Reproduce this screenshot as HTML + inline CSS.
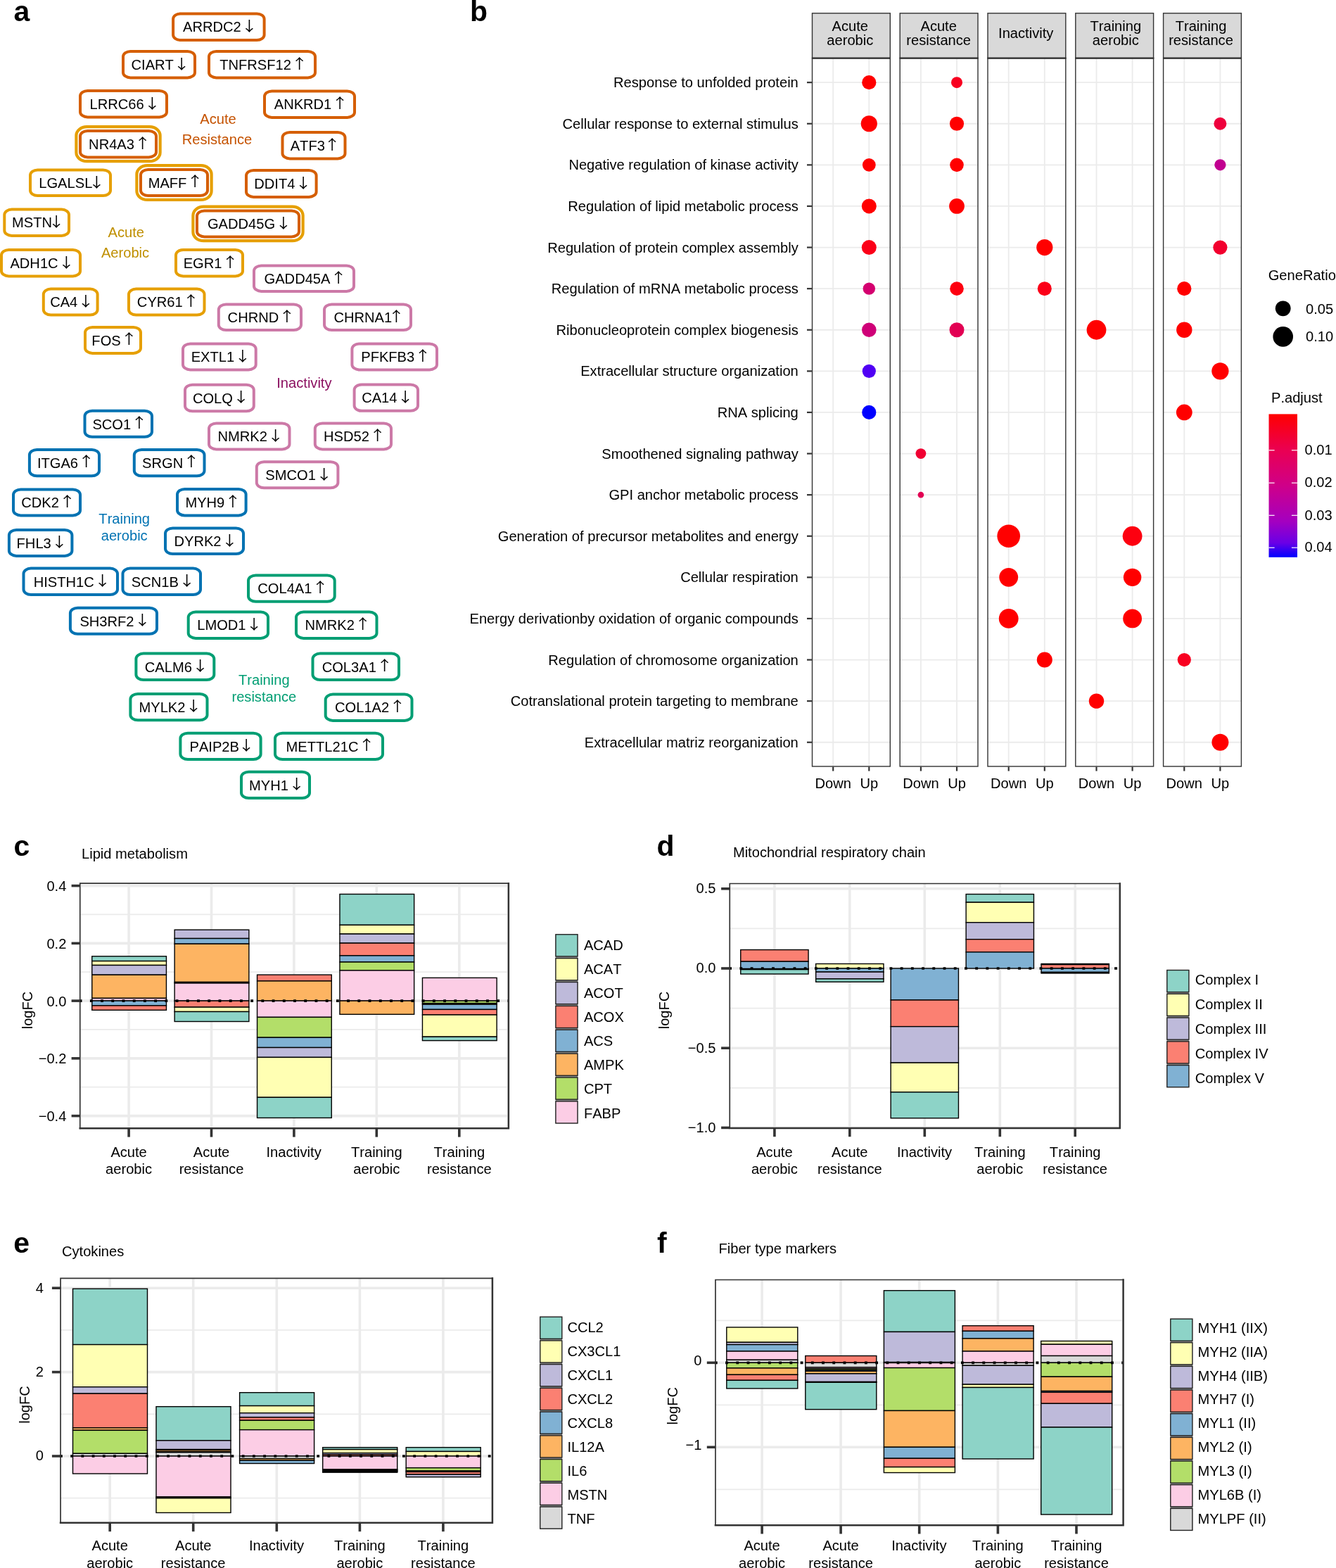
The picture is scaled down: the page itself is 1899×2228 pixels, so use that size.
<!DOCTYPE html>
<html lang="en">
<head>
<meta charset="utf-8">
<title>Figure</title>
<style>
html,body{margin:0;padding:0;background:#fff;}
body{width:1899px;height:2228px;overflow:hidden;}
svg{display:block;}
text{font-family:"Liberation Sans",sans-serif;font-size:20.12px;fill:#000;font-kerning:none;}
text.g{font-size:20.12px;}
text.ar{font-family:"Noto Sans CJK SC","DejaVu Sans",sans-serif;font-size:19.4px;text-anchor:middle;}
text.pl{font-weight:bold;font-size:40.9px;}
</style>
</head>
<body>
<svg width="1899" height="2228" viewBox="0 0 1899 2228">
<defs>
<linearGradient id="pgrad" x1="0" y1="0" x2="0" y2="1">
<stop offset="0" stop-color="#ff0000"/>
<stop offset="0.25" stop-color="#ea0052"/>
<stop offset="0.5" stop-color="#cf0089"/>
<stop offset="0.75" stop-color="#a400c0"/>
<stop offset="0.9" stop-color="#6a00e6"/>
<stop offset="1" stop-color="#0000ff"/>
</linearGradient>
</defs>
<rect width="1899" height="2228" fill="#fff"/>
<g id="panel-a">
<rect x="246.10" y="19.40" width="129.50" height="37.70" rx="10.50" ry="7.50" fill="#fff" stroke="#d55e00" stroke-width="4.0"/>
<text x="260.02" y="45.45" class="g">ARRDC2</text>
<text transform="translate(354.45,44.10) scale(1.2,1)" class="ar">↓</text>
<rect x="175.00" y="73.00" width="102.00" height="37.40" rx="10.50" ry="7.50" fill="#fff" stroke="#d55e00" stroke-width="4.0"/>
<text x="186.54" y="98.90" class="g">CIART</text>
<text transform="translate(258.23,97.55) scale(1.2,1)" class="ar">↓</text>
<rect x="297.00" y="73.00" width="151.00" height="37.40" rx="10.50" ry="7.50" fill="#fff" stroke="#d55e00" stroke-width="4.0"/>
<text x="312.17" y="98.90" class="g">TNFRSF12</text>
<text transform="translate(425.60,97.55) scale(1.2,1)" class="ar">↑</text>
<rect x="114.00" y="129.00" width="123.00" height="37.40" rx="10.50" ry="7.50" fill="#fff" stroke="#d55e00" stroke-width="4.0"/>
<text x="127.46" y="154.90" class="g">LRRC66</text>
<text transform="translate(216.31,153.55) scale(1.2,1)" class="ar">↓</text>
<rect x="376.00" y="129.50" width="128.00" height="37.40" rx="10.50" ry="7.50" fill="#fff" stroke="#d55e00" stroke-width="4.0"/>
<text x="389.73" y="155.40" class="g">ANKRD1</text>
<text transform="translate(483.04,154.05) scale(1.2,1)" class="ar">↑</text>
<rect x="108.40" y="180.20" width="119.20" height="49.00" rx="14.90" ry="12.40" fill="#fff" stroke="#e69f00" stroke-width="4.2"/>
<rect x="114.00" y="186.00" width="108.00" height="37.40" rx="10.50" ry="7.50" fill="#fff" stroke="#d55e00" stroke-width="4.0"/>
<text x="126.11" y="211.90" class="g">NR4A3</text>
<text transform="translate(202.66,210.55) scale(1.2,1)" class="ar">↑</text>
<rect x="401.50" y="188.00" width="89.00" height="37.40" rx="10.50" ry="7.50" fill="#fff" stroke="#d55e00" stroke-width="4.0"/>
<text x="412.69" y="213.90" class="g">ATF3</text>
<text transform="translate(472.08,212.55) scale(1.2,1)" class="ar">↑</text>
<rect x="43.00" y="241.50" width="114.00" height="36.60" rx="10.50" ry="7.50" fill="#fff" stroke="#e69f00" stroke-width="4.0"/>
<text x="55.30" y="267.00" class="g">LGALSL</text>
<text transform="translate(137.47,265.65) scale(1.2,1)" class="ar">↓</text>
<rect x="194.40" y="235.20" width="106.20" height="48.70" rx="14.90" ry="12.40" fill="#fff" stroke="#e69f00" stroke-width="4.2"/>
<rect x="200.00" y="241.00" width="95.00" height="37.10" rx="10.50" ry="7.50" fill="#fff" stroke="#d55e00" stroke-width="4.0"/>
<text x="210.66" y="266.75" class="g">MAFF</text>
<text transform="translate(277.11,265.40) scale(1.2,1)" class="ar">↑</text>
<rect x="350.00" y="242.00" width="99.60" height="37.90" rx="10.50" ry="7.50" fill="#fff" stroke="#d55e00" stroke-width="4.0"/>
<text x="361.27" y="268.15" class="g">DDIT4</text>
<text transform="translate(431.10,266.80) scale(1.2,1)" class="ar">↓</text>
<rect x="6.30" y="297.60" width="91.70" height="37.30" rx="10.50" ry="7.50" fill="#fff" stroke="#e69f00" stroke-width="4.0"/>
<text x="16.98" y="323.45" class="g">MSTN</text>
<text transform="translate(80.09,322.10) scale(1.2,1)" class="ar">↓</text>
<rect x="274.40" y="293.70" width="156.20" height="48.50" rx="14.90" ry="12.40" fill="#fff" stroke="#e69f00" stroke-width="4.2"/>
<rect x="280.00" y="299.50" width="145.00" height="36.90" rx="10.50" ry="7.50" fill="#fff" stroke="#d55e00" stroke-width="4.0"/>
<text x="294.96" y="325.15" class="g">GADD45G</text>
<text transform="translate(402.81,323.80) scale(1.2,1)" class="ar">↓</text>
<rect x="2.00" y="355.00" width="112.00" height="37.40" rx="10.50" ry="7.50" fill="#fff" stroke="#e69f00" stroke-width="4.0"/>
<text x="14.44" y="380.90" class="g">ADH1C</text>
<text transform="translate(94.33,379.55) scale(1.2,1)" class="ar">↓</text>
<rect x="250.00" y="355.00" width="95.00" height="37.40" rx="10.50" ry="7.50" fill="#fff" stroke="#e69f00" stroke-width="4.0"/>
<text x="260.64" y="380.90" class="g">EGR1</text>
<text transform="translate(327.13,379.55) scale(1.2,1)" class="ar">↑</text>
<rect x="361.00" y="377.50" width="142.00" height="36.40" rx="10.50" ry="7.50" fill="#fff" stroke="#cc79a7" stroke-width="4.0"/>
<text x="375.57" y="402.90" class="g">GADD45A</text>
<text transform="translate(481.20,401.55) scale(1.2,1)" class="ar">↑</text>
<rect x="61.80" y="410.60" width="76.80" height="37.00" rx="10.50" ry="7.50" fill="#fff" stroke="#e69f00" stroke-width="4.0"/>
<text x="71.17" y="436.30" class="g">CA4</text>
<text transform="translate(122.00,434.95) scale(1.2,1)" class="ar">↓</text>
<rect x="183.00" y="410.60" width="107.50" height="37.00" rx="10.50" ry="7.50" fill="#fff" stroke="#e69f00" stroke-width="4.0"/>
<text x="194.86" y="436.30" class="g">CYR61</text>
<text transform="translate(271.41,434.95) scale(1.2,1)" class="ar">↑</text>
<rect x="310.80" y="432.40" width="117.20" height="36.60" rx="10.50" ry="7.50" fill="#fff" stroke="#cc79a7" stroke-width="4.0"/>
<text x="323.61" y="457.90" class="g">CHRND</text>
<text transform="translate(407.96,456.55) scale(1.2,1)" class="ar">↑</text>
<rect x="461.00" y="432.40" width="123.00" height="36.60" rx="10.50" ry="7.50" fill="#fff" stroke="#cc79a7" stroke-width="4.0"/>
<text x="474.47" y="457.90" class="g">CHRNA1</text>
<text transform="translate(563.30,456.55) scale(1.2,1)" class="ar">↑</text>
<rect x="121.00" y="465.00" width="79.00" height="36.90" rx="10.50" ry="7.50" fill="#fff" stroke="#e69f00" stroke-width="4.0"/>
<text x="130.36" y="490.65" class="g">FOS</text>
<text transform="translate(183.41,489.30) scale(1.2,1)" class="ar">↑</text>
<rect x="260.00" y="488.50" width="103.70" height="36.90" rx="10.50" ry="7.50" fill="#fff" stroke="#cc79a7" stroke-width="4.0"/>
<text x="271.63" y="514.15" class="g">EXTL1</text>
<text transform="translate(344.84,512.80) scale(1.2,1)" class="ar">↓</text>
<rect x="500.40" y="488.50" width="120.60" height="36.90" rx="10.50" ry="7.50" fill="#fff" stroke="#cc79a7" stroke-width="4.0"/>
<text x="513.22" y="514.15" class="g">PFKFB3</text>
<text transform="translate(600.95,512.80) scale(1.2,1)" class="ar">↑</text>
<rect x="263.00" y="546.80" width="97.80" height="37.40" rx="10.50" ry="7.50" fill="#fff" stroke="#cc79a7" stroke-width="4.0"/>
<text x="273.93" y="572.70" class="g">COLQ</text>
<text transform="translate(342.64,571.35) scale(1.2,1)" class="ar">↓</text>
<rect x="503.60" y="546.50" width="90.40" height="37.30" rx="10.50" ry="7.50" fill="#fff" stroke="#cc79a7" stroke-width="4.0"/>
<text x="514.17" y="572.35" class="g">CA14</text>
<text transform="translate(576.20,571.00) scale(1.2,1)" class="ar">↓</text>
<rect x="120.50" y="583.80" width="95.50" height="37.00" rx="10.50" ry="7.50" fill="#fff" stroke="#0072b2" stroke-width="4.0"/>
<text x="131.39" y="609.50" class="g">SCO1</text>
<text transform="translate(197.88,608.15) scale(1.2,1)" class="ar">↑</text>
<rect x="297.00" y="601.50" width="114.50" height="36.90" rx="10.50" ry="7.50" fill="#fff" stroke="#cc79a7" stroke-width="4.0"/>
<text x="309.57" y="627.15" class="g">NMRK2</text>
<text transform="translate(391.70,625.80) scale(1.2,1)" class="ar">↓</text>
<rect x="447.80" y="601.50" width="108.20" height="36.90" rx="10.50" ry="7.50" fill="#fff" stroke="#cc79a7" stroke-width="4.0"/>
<text x="460.01" y="627.15" class="g">HSD52</text>
<text transform="translate(536.56,625.80) scale(1.2,1)" class="ar">↑</text>
<rect x="41.90" y="639.00" width="99.10" height="37.20" rx="10.50" ry="7.50" fill="#fff" stroke="#0072b2" stroke-width="4.0"/>
<text x="52.92" y="664.80" class="g">ITGA6</text>
<text transform="translate(122.75,663.45) scale(1.2,1)" class="ar">↑</text>
<rect x="190.80" y="639.00" width="99.70" height="37.20" rx="10.50" ry="7.50" fill="#fff" stroke="#0072b2" stroke-width="4.0"/>
<text x="202.12" y="664.80" class="g">SRGN</text>
<text transform="translate(271.95,663.45) scale(1.2,1)" class="ar">↑</text>
<rect x="364.80" y="656.30" width="115.60" height="36.90" rx="10.50" ry="7.50" fill="#fff" stroke="#cc79a7" stroke-width="4.0"/>
<text x="377.36" y="681.95" class="g">SMCO1</text>
<text transform="translate(460.61,680.60) scale(1.2,1)" class="ar">↓</text>
<rect x="19.00" y="695.40" width="95.00" height="37.00" rx="10.50" ry="7.50" fill="#fff" stroke="#0072b2" stroke-width="4.0"/>
<text x="30.20" y="721.10" class="g">CDK2</text>
<text transform="translate(95.57,719.75) scale(1.2,1)" class="ar">↑</text>
<rect x="252.00" y="695.00" width="97.60" height="37.40" rx="10.50" ry="7.50" fill="#fff" stroke="#0072b2" stroke-width="4.0"/>
<text x="263.39" y="720.90" class="g">MYH9</text>
<text transform="translate(330.98,719.55) scale(1.2,1)" class="ar">↑</text>
<rect x="12.90" y="753.00" width="89.50" height="36.90" rx="10.50" ry="7.50" fill="#fff" stroke="#0072b2" stroke-width="4.0"/>
<text x="23.59" y="778.65" class="g">FHL3</text>
<text transform="translate(84.48,777.30) scale(1.2,1)" class="ar">↓</text>
<rect x="235.00" y="750.50" width="111.00" height="36.50" rx="10.50" ry="7.50" fill="#fff" stroke="#0072b2" stroke-width="4.0"/>
<text x="247.49" y="775.95" class="g">DYRK2</text>
<text transform="translate(326.28,774.60) scale(1.2,1)" class="ar">↓</text>
<rect x="33.50" y="807.60" width="133.50" height="37.40" rx="10.50" ry="7.50" fill="#fff" stroke="#0072b2" stroke-width="4.0"/>
<text x="47.75" y="833.50" class="g">HISTH1C</text>
<text transform="translate(145.52,832.15) scale(1.2,1)" class="ar">↓</text>
<rect x="174.50" y="807.60" width="110.50" height="37.40" rx="10.50" ry="7.50" fill="#fff" stroke="#0072b2" stroke-width="4.0"/>
<text x="186.74" y="833.50" class="g">SCN1B</text>
<text transform="translate(265.53,832.15) scale(1.2,1)" class="ar">↓</text>
<rect x="353.00" y="817.40" width="122.70" height="37.40" rx="10.50" ry="7.50" fill="#fff" stroke="#009e73" stroke-width="4.0"/>
<text x="366.30" y="843.30" class="g">COL4A1</text>
<text transform="translate(455.17,841.95) scale(1.2,1)" class="ar">↑</text>
<rect x="99.90" y="863.80" width="123.10" height="37.00" rx="10.50" ry="7.50" fill="#fff" stroke="#0072b2" stroke-width="4.0"/>
<text x="113.41" y="889.50" class="g">SH3RF2</text>
<text transform="translate(202.26,888.15) scale(1.2,1)" class="ar">↓</text>
<rect x="267.70" y="869.60" width="113.30" height="37.30" rx="10.50" ry="7.50" fill="#fff" stroke="#009e73" stroke-width="4.0"/>
<text x="280.23" y="895.45" class="g">LMOD1</text>
<text transform="translate(361.24,894.10) scale(1.2,1)" class="ar">↓</text>
<rect x="421.00" y="869.60" width="114.50" height="37.30" rx="10.50" ry="7.50" fill="#fff" stroke="#009e73" stroke-width="4.0"/>
<text x="433.57" y="895.45" class="g">NMRK2</text>
<text transform="translate(515.70,894.10) scale(1.2,1)" class="ar">↑</text>
<rect x="193.40" y="928.60" width="110.90" height="37.40" rx="10.50" ry="7.50" fill="#fff" stroke="#009e73" stroke-width="4.0"/>
<text x="205.84" y="954.50" class="g">CALM6</text>
<text transform="translate(284.63,953.15) scale(1.2,1)" class="ar">↓</text>
<rect x="444.50" y="928.60" width="122.50" height="37.40" rx="10.50" ry="7.50" fill="#fff" stroke="#009e73" stroke-width="4.0"/>
<text x="457.70" y="954.50" class="g">COL3A1</text>
<text transform="translate(546.57,953.15) scale(1.2,1)" class="ar">↑</text>
<rect x="185.40" y="985.90" width="109.10" height="37.30" rx="10.50" ry="7.50" fill="#fff" stroke="#009e73" stroke-width="4.0"/>
<text x="197.50" y="1011.75" class="g">MYLK2</text>
<text transform="translate(275.17,1010.40) scale(1.2,1)" class="ar">↓</text>
<rect x="462.70" y="986.60" width="122.80" height="37.30" rx="10.50" ry="7.50" fill="#fff" stroke="#009e73" stroke-width="4.0"/>
<text x="476.05" y="1012.45" class="g">COL1A2</text>
<text transform="translate(564.92,1011.10) scale(1.2,1)" class="ar">↑</text>
<rect x="256.40" y="1041.70" width="114.20" height="37.30" rx="10.50" ry="7.50" fill="#fff" stroke="#009e73" stroke-width="4.0"/>
<text x="269.56" y="1067.55" class="g">PAIP2B</text>
<text transform="translate(350.21,1066.20) scale(1.2,1)" class="ar">↓</text>
<rect x="391.00" y="1041.70" width="153.00" height="37.30" rx="10.50" ry="7.50" fill="#fff" stroke="#009e73" stroke-width="4.0"/>
<text x="406.61" y="1067.55" class="g">METTL21C</text>
<text transform="translate(521.16,1066.20) scale(1.2,1)" class="ar">↑</text>
<rect x="343.00" y="1096.70" width="97.00" height="37.40" rx="10.50" ry="7.50" fill="#fff" stroke="#009e73" stroke-width="4.0"/>
<text x="354.09" y="1122.60" class="g">MYH1</text>
<text transform="translate(421.68,1121.25) scale(1.2,1)" class="ar">↓</text>
<text x="310.00" y="175.90" text-anchor="middle" style="fill:#c55200" class="t">Acute</text>
<text x="308.50" y="204.60" text-anchor="middle" style="fill:#c55200" class="t">Resistance</text>
<text x="179.30" y="336.70" text-anchor="middle" style="fill:#bf8f00" class="t">Acute</text>
<text x="178.00" y="365.60" text-anchor="middle" style="fill:#bf8f00" class="t">Aerobic</text>
<text x="432.40" y="550.90" text-anchor="middle" style="fill:#8b1060" class="t">Inactivity</text>
<text x="176.70" y="743.80" text-anchor="middle" style="fill:#0072b2" class="t">Training</text>
<text x="176.70" y="767.90" text-anchor="middle" style="fill:#0072b2" class="t">aerobic</text>
<text x="375.30" y="972.80" text-anchor="middle" style="fill:#009e73" class="t">Training</text>
<text x="375.30" y="996.80" text-anchor="middle" style="fill:#009e73" class="t">resistance</text>
</g>
<text x="19.60" y="30.30" class="pl">a</text>
<text x="668.00" y="30.10" class="pl">b</text>
<text x="19.60" y="1216.40" class="pl">c</text>
<text x="933.50" y="1216.40" class="pl">d</text>
<text x="19.30" y="1780.00" class="pl">e</text>
<text x="933.90" y="1780.20" class="pl">f</text>
<g id="panel-b">
<rect x="1153.90" y="82.60" width="112.0" height="1007.00" fill="#fff"/>
<line x1="1153.90" x2="1265.90" y1="117.15" y2="117.15" stroke="#ebebeb" stroke-width="1.8"/>
<line x1="1153.90" x2="1265.90" y1="175.75" y2="175.75" stroke="#ebebeb" stroke-width="1.8"/>
<line x1="1153.90" x2="1265.90" y1="234.35" y2="234.35" stroke="#ebebeb" stroke-width="1.8"/>
<line x1="1153.90" x2="1265.90" y1="292.95" y2="292.95" stroke="#ebebeb" stroke-width="1.8"/>
<line x1="1153.90" x2="1265.90" y1="351.55" y2="351.55" stroke="#ebebeb" stroke-width="1.8"/>
<line x1="1153.90" x2="1265.90" y1="410.15" y2="410.15" stroke="#ebebeb" stroke-width="1.8"/>
<line x1="1153.90" x2="1265.90" y1="468.75" y2="468.75" stroke="#ebebeb" stroke-width="1.8"/>
<line x1="1153.90" x2="1265.90" y1="527.35" y2="527.35" stroke="#ebebeb" stroke-width="1.8"/>
<line x1="1153.90" x2="1265.90" y1="585.95" y2="585.95" stroke="#ebebeb" stroke-width="1.8"/>
<line x1="1153.90" x2="1265.90" y1="644.55" y2="644.55" stroke="#ebebeb" stroke-width="1.8"/>
<line x1="1153.90" x2="1265.90" y1="703.15" y2="703.15" stroke="#ebebeb" stroke-width="1.8"/>
<line x1="1153.90" x2="1265.90" y1="761.75" y2="761.75" stroke="#ebebeb" stroke-width="1.8"/>
<line x1="1153.90" x2="1265.90" y1="820.35" y2="820.35" stroke="#ebebeb" stroke-width="1.8"/>
<line x1="1153.90" x2="1265.90" y1="878.95" y2="878.95" stroke="#ebebeb" stroke-width="1.8"/>
<line x1="1153.90" x2="1265.90" y1="937.55" y2="937.55" stroke="#ebebeb" stroke-width="1.8"/>
<line x1="1153.90" x2="1265.90" y1="996.15" y2="996.15" stroke="#ebebeb" stroke-width="1.8"/>
<line x1="1153.90" x2="1265.90" y1="1054.75" y2="1054.75" stroke="#ebebeb" stroke-width="1.8"/>
<line x1="1184.20" x2="1184.20" y1="82.60" y2="1089.60" stroke="#ebebeb" stroke-width="1.8"/>
<line x1="1235.30" x2="1235.30" y1="82.60" y2="1089.60" stroke="#ebebeb" stroke-width="1.8"/>
<rect x="1278.60" y="82.60" width="112.0" height="1007.00" fill="#fff"/>
<line x1="1278.60" x2="1390.60" y1="117.15" y2="117.15" stroke="#ebebeb" stroke-width="1.8"/>
<line x1="1278.60" x2="1390.60" y1="175.75" y2="175.75" stroke="#ebebeb" stroke-width="1.8"/>
<line x1="1278.60" x2="1390.60" y1="234.35" y2="234.35" stroke="#ebebeb" stroke-width="1.8"/>
<line x1="1278.60" x2="1390.60" y1="292.95" y2="292.95" stroke="#ebebeb" stroke-width="1.8"/>
<line x1="1278.60" x2="1390.60" y1="351.55" y2="351.55" stroke="#ebebeb" stroke-width="1.8"/>
<line x1="1278.60" x2="1390.60" y1="410.15" y2="410.15" stroke="#ebebeb" stroke-width="1.8"/>
<line x1="1278.60" x2="1390.60" y1="468.75" y2="468.75" stroke="#ebebeb" stroke-width="1.8"/>
<line x1="1278.60" x2="1390.60" y1="527.35" y2="527.35" stroke="#ebebeb" stroke-width="1.8"/>
<line x1="1278.60" x2="1390.60" y1="585.95" y2="585.95" stroke="#ebebeb" stroke-width="1.8"/>
<line x1="1278.60" x2="1390.60" y1="644.55" y2="644.55" stroke="#ebebeb" stroke-width="1.8"/>
<line x1="1278.60" x2="1390.60" y1="703.15" y2="703.15" stroke="#ebebeb" stroke-width="1.8"/>
<line x1="1278.60" x2="1390.60" y1="761.75" y2="761.75" stroke="#ebebeb" stroke-width="1.8"/>
<line x1="1278.60" x2="1390.60" y1="820.35" y2="820.35" stroke="#ebebeb" stroke-width="1.8"/>
<line x1="1278.60" x2="1390.60" y1="878.95" y2="878.95" stroke="#ebebeb" stroke-width="1.8"/>
<line x1="1278.60" x2="1390.60" y1="937.55" y2="937.55" stroke="#ebebeb" stroke-width="1.8"/>
<line x1="1278.60" x2="1390.60" y1="996.15" y2="996.15" stroke="#ebebeb" stroke-width="1.8"/>
<line x1="1278.60" x2="1390.60" y1="1054.75" y2="1054.75" stroke="#ebebeb" stroke-width="1.8"/>
<line x1="1308.90" x2="1308.90" y1="82.60" y2="1089.60" stroke="#ebebeb" stroke-width="1.8"/>
<line x1="1360.00" x2="1360.00" y1="82.60" y2="1089.60" stroke="#ebebeb" stroke-width="1.8"/>
<rect x="1403.40" y="82.60" width="112.0" height="1007.00" fill="#fff"/>
<line x1="1403.40" x2="1515.40" y1="117.15" y2="117.15" stroke="#ebebeb" stroke-width="1.8"/>
<line x1="1403.40" x2="1515.40" y1="175.75" y2="175.75" stroke="#ebebeb" stroke-width="1.8"/>
<line x1="1403.40" x2="1515.40" y1="234.35" y2="234.35" stroke="#ebebeb" stroke-width="1.8"/>
<line x1="1403.40" x2="1515.40" y1="292.95" y2="292.95" stroke="#ebebeb" stroke-width="1.8"/>
<line x1="1403.40" x2="1515.40" y1="351.55" y2="351.55" stroke="#ebebeb" stroke-width="1.8"/>
<line x1="1403.40" x2="1515.40" y1="410.15" y2="410.15" stroke="#ebebeb" stroke-width="1.8"/>
<line x1="1403.40" x2="1515.40" y1="468.75" y2="468.75" stroke="#ebebeb" stroke-width="1.8"/>
<line x1="1403.40" x2="1515.40" y1="527.35" y2="527.35" stroke="#ebebeb" stroke-width="1.8"/>
<line x1="1403.40" x2="1515.40" y1="585.95" y2="585.95" stroke="#ebebeb" stroke-width="1.8"/>
<line x1="1403.40" x2="1515.40" y1="644.55" y2="644.55" stroke="#ebebeb" stroke-width="1.8"/>
<line x1="1403.40" x2="1515.40" y1="703.15" y2="703.15" stroke="#ebebeb" stroke-width="1.8"/>
<line x1="1403.40" x2="1515.40" y1="761.75" y2="761.75" stroke="#ebebeb" stroke-width="1.8"/>
<line x1="1403.40" x2="1515.40" y1="820.35" y2="820.35" stroke="#ebebeb" stroke-width="1.8"/>
<line x1="1403.40" x2="1515.40" y1="878.95" y2="878.95" stroke="#ebebeb" stroke-width="1.8"/>
<line x1="1403.40" x2="1515.40" y1="937.55" y2="937.55" stroke="#ebebeb" stroke-width="1.8"/>
<line x1="1403.40" x2="1515.40" y1="996.15" y2="996.15" stroke="#ebebeb" stroke-width="1.8"/>
<line x1="1403.40" x2="1515.40" y1="1054.75" y2="1054.75" stroke="#ebebeb" stroke-width="1.8"/>
<line x1="1433.70" x2="1433.70" y1="82.60" y2="1089.60" stroke="#ebebeb" stroke-width="1.8"/>
<line x1="1484.80" x2="1484.80" y1="82.60" y2="1089.60" stroke="#ebebeb" stroke-width="1.8"/>
<rect x="1528.20" y="82.60" width="112.0" height="1007.00" fill="#fff"/>
<line x1="1528.20" x2="1640.20" y1="117.15" y2="117.15" stroke="#ebebeb" stroke-width="1.8"/>
<line x1="1528.20" x2="1640.20" y1="175.75" y2="175.75" stroke="#ebebeb" stroke-width="1.8"/>
<line x1="1528.20" x2="1640.20" y1="234.35" y2="234.35" stroke="#ebebeb" stroke-width="1.8"/>
<line x1="1528.20" x2="1640.20" y1="292.95" y2="292.95" stroke="#ebebeb" stroke-width="1.8"/>
<line x1="1528.20" x2="1640.20" y1="351.55" y2="351.55" stroke="#ebebeb" stroke-width="1.8"/>
<line x1="1528.20" x2="1640.20" y1="410.15" y2="410.15" stroke="#ebebeb" stroke-width="1.8"/>
<line x1="1528.20" x2="1640.20" y1="468.75" y2="468.75" stroke="#ebebeb" stroke-width="1.8"/>
<line x1="1528.20" x2="1640.20" y1="527.35" y2="527.35" stroke="#ebebeb" stroke-width="1.8"/>
<line x1="1528.20" x2="1640.20" y1="585.95" y2="585.95" stroke="#ebebeb" stroke-width="1.8"/>
<line x1="1528.20" x2="1640.20" y1="644.55" y2="644.55" stroke="#ebebeb" stroke-width="1.8"/>
<line x1="1528.20" x2="1640.20" y1="703.15" y2="703.15" stroke="#ebebeb" stroke-width="1.8"/>
<line x1="1528.20" x2="1640.20" y1="761.75" y2="761.75" stroke="#ebebeb" stroke-width="1.8"/>
<line x1="1528.20" x2="1640.20" y1="820.35" y2="820.35" stroke="#ebebeb" stroke-width="1.8"/>
<line x1="1528.20" x2="1640.20" y1="878.95" y2="878.95" stroke="#ebebeb" stroke-width="1.8"/>
<line x1="1528.20" x2="1640.20" y1="937.55" y2="937.55" stroke="#ebebeb" stroke-width="1.8"/>
<line x1="1528.20" x2="1640.20" y1="996.15" y2="996.15" stroke="#ebebeb" stroke-width="1.8"/>
<line x1="1528.20" x2="1640.20" y1="1054.75" y2="1054.75" stroke="#ebebeb" stroke-width="1.8"/>
<line x1="1558.50" x2="1558.50" y1="82.60" y2="1089.60" stroke="#ebebeb" stroke-width="1.8"/>
<line x1="1609.60" x2="1609.60" y1="82.60" y2="1089.60" stroke="#ebebeb" stroke-width="1.8"/>
<rect x="1653.00" y="82.60" width="112.0" height="1007.00" fill="#fff"/>
<line x1="1653.00" x2="1765.00" y1="117.15" y2="117.15" stroke="#ebebeb" stroke-width="1.8"/>
<line x1="1653.00" x2="1765.00" y1="175.75" y2="175.75" stroke="#ebebeb" stroke-width="1.8"/>
<line x1="1653.00" x2="1765.00" y1="234.35" y2="234.35" stroke="#ebebeb" stroke-width="1.8"/>
<line x1="1653.00" x2="1765.00" y1="292.95" y2="292.95" stroke="#ebebeb" stroke-width="1.8"/>
<line x1="1653.00" x2="1765.00" y1="351.55" y2="351.55" stroke="#ebebeb" stroke-width="1.8"/>
<line x1="1653.00" x2="1765.00" y1="410.15" y2="410.15" stroke="#ebebeb" stroke-width="1.8"/>
<line x1="1653.00" x2="1765.00" y1="468.75" y2="468.75" stroke="#ebebeb" stroke-width="1.8"/>
<line x1="1653.00" x2="1765.00" y1="527.35" y2="527.35" stroke="#ebebeb" stroke-width="1.8"/>
<line x1="1653.00" x2="1765.00" y1="585.95" y2="585.95" stroke="#ebebeb" stroke-width="1.8"/>
<line x1="1653.00" x2="1765.00" y1="644.55" y2="644.55" stroke="#ebebeb" stroke-width="1.8"/>
<line x1="1653.00" x2="1765.00" y1="703.15" y2="703.15" stroke="#ebebeb" stroke-width="1.8"/>
<line x1="1653.00" x2="1765.00" y1="761.75" y2="761.75" stroke="#ebebeb" stroke-width="1.8"/>
<line x1="1653.00" x2="1765.00" y1="820.35" y2="820.35" stroke="#ebebeb" stroke-width="1.8"/>
<line x1="1653.00" x2="1765.00" y1="878.95" y2="878.95" stroke="#ebebeb" stroke-width="1.8"/>
<line x1="1653.00" x2="1765.00" y1="937.55" y2="937.55" stroke="#ebebeb" stroke-width="1.8"/>
<line x1="1653.00" x2="1765.00" y1="996.15" y2="996.15" stroke="#ebebeb" stroke-width="1.8"/>
<line x1="1653.00" x2="1765.00" y1="1054.75" y2="1054.75" stroke="#ebebeb" stroke-width="1.8"/>
<line x1="1683.30" x2="1683.30" y1="82.60" y2="1089.60" stroke="#ebebeb" stroke-width="1.8"/>
<line x1="1734.40" x2="1734.40" y1="82.60" y2="1089.60" stroke="#ebebeb" stroke-width="1.8"/>
<circle cx="1235.30" cy="117.15" r="10.1" fill="#ff0000"/>
<circle cx="1235.30" cy="175.75" r="11.6" fill="#ff0000"/>
<circle cx="1235.30" cy="234.35" r="9.4" fill="#ff0000"/>
<circle cx="1235.30" cy="292.95" r="10.5" fill="#ff0000"/>
<circle cx="1235.30" cy="351.55" r="10.5" fill="#fb0018"/>
<circle cx="1235.30" cy="410.15" r="8.7" fill="#d4006f"/>
<circle cx="1235.30" cy="468.75" r="10.3" fill="#cf0078"/>
<circle cx="1235.30" cy="527.35" r="9.6" fill="#5000f4"/>
<circle cx="1235.30" cy="585.95" r="10.1" fill="#0000ff"/>
<circle cx="1360.00" cy="117.15" r="8.0" fill="#f80020"/>
<circle cx="1360.00" cy="175.75" r="10.1" fill="#ff0000"/>
<circle cx="1360.00" cy="234.35" r="9.8" fill="#ff0000"/>
<circle cx="1360.00" cy="292.95" r="10.9" fill="#ff0000"/>
<circle cx="1360.00" cy="410.15" r="9.8" fill="#fd0010"/>
<circle cx="1360.00" cy="468.75" r="10.5" fill="#e20053"/>
<circle cx="1308.90" cy="644.55" r="7.4" fill="#f00032"/>
<circle cx="1308.90" cy="703.15" r="4.3" fill="#e20053"/>
<circle cx="1484.80" cy="351.55" r="11.6" fill="#ff0000"/>
<circle cx="1484.80" cy="410.15" r="10.0" fill="#fb0018"/>
<circle cx="1433.70" cy="761.75" r="16.3" fill="#ff0000"/>
<circle cx="1433.70" cy="820.35" r="13.4" fill="#ff0000"/>
<circle cx="1433.70" cy="878.95" r="13.9" fill="#ff0000"/>
<circle cx="1484.80" cy="937.55" r="11.0" fill="#ff0000"/>
<circle cx="1558.50" cy="468.75" r="13.9" fill="#ff0000"/>
<circle cx="1609.60" cy="761.75" r="13.9" fill="#fd0010"/>
<circle cx="1609.60" cy="820.35" r="12.7" fill="#ff0000"/>
<circle cx="1609.60" cy="878.95" r="13.4" fill="#ff0000"/>
<circle cx="1558.50" cy="996.15" r="10.7" fill="#ff0000"/>
<circle cx="1734.40" cy="175.75" r="9.0" fill="#ee003c"/>
<circle cx="1734.40" cy="234.35" r="8.1" fill="#c10090"/>
<circle cx="1734.40" cy="351.55" r="10.1" fill="#f2002e"/>
<circle cx="1683.30" cy="410.15" r="10.1" fill="#ff0000"/>
<circle cx="1683.30" cy="468.75" r="11.2" fill="#ff0000"/>
<circle cx="1734.40" cy="527.35" r="12.1" fill="#ff0000"/>
<circle cx="1683.30" cy="585.95" r="11.4" fill="#ff0000"/>
<circle cx="1683.30" cy="937.55" r="9.6" fill="#f80020"/>
<circle cx="1734.40" cy="1054.75" r="12.0" fill="#ff0000"/>
<rect x="1154.50" y="82.60" width="110.80" height="1006.40" fill="none" stroke="#333" stroke-width="1.4"/>
<rect x="1154.50" y="18.80" width="110.80" height="63.80" fill="#d9d9d9" stroke="#333" stroke-width="1.4"/>
<line x1="1153.90" x2="1265.90" y1="82.60" y2="82.60" stroke="#333" stroke-width="2.4"/>
<text x="1208.30" y="44.2" text-anchor="middle" class="t">Acute</text>
<text x="1208.30" y="64.2" text-anchor="middle" class="t">aerobic</text>
<line x1="1184.20" x2="1184.20" y1="1089.60" y2="1095.60" stroke="#333" stroke-width="2.2"/>
<text x="1184.20" y="1119.6" text-anchor="middle" class="t">Down</text>
<line x1="1235.30" x2="1235.30" y1="1089.60" y2="1095.60" stroke="#333" stroke-width="2.2"/>
<text x="1235.30" y="1119.6" text-anchor="middle" class="t">Up</text>
<rect x="1279.20" y="82.60" width="110.80" height="1006.40" fill="none" stroke="#333" stroke-width="1.4"/>
<rect x="1279.20" y="18.80" width="110.80" height="63.80" fill="#d9d9d9" stroke="#333" stroke-width="1.4"/>
<line x1="1278.60" x2="1390.60" y1="82.60" y2="82.60" stroke="#333" stroke-width="2.4"/>
<text x="1334.20" y="44.2" text-anchor="middle" class="t">Acute</text>
<text x="1334.20" y="64.2" text-anchor="middle" class="t">resistance</text>
<line x1="1308.90" x2="1308.90" y1="1089.60" y2="1095.60" stroke="#333" stroke-width="2.2"/>
<text x="1308.90" y="1119.6" text-anchor="middle" class="t">Down</text>
<line x1="1360.00" x2="1360.00" y1="1089.60" y2="1095.60" stroke="#333" stroke-width="2.2"/>
<text x="1360.00" y="1119.6" text-anchor="middle" class="t">Up</text>
<rect x="1404.00" y="82.60" width="110.80" height="1006.40" fill="none" stroke="#333" stroke-width="1.4"/>
<rect x="1404.00" y="18.80" width="110.80" height="63.80" fill="#d9d9d9" stroke="#333" stroke-width="1.4"/>
<line x1="1403.40" x2="1515.40" y1="82.60" y2="82.60" stroke="#333" stroke-width="2.4"/>
<text x="1458.20" y="54.2" text-anchor="middle" class="t">Inactivity</text>
<line x1="1433.70" x2="1433.70" y1="1089.60" y2="1095.60" stroke="#333" stroke-width="2.2"/>
<text x="1433.70" y="1119.6" text-anchor="middle" class="t">Down</text>
<line x1="1484.80" x2="1484.80" y1="1089.60" y2="1095.60" stroke="#333" stroke-width="2.2"/>
<text x="1484.80" y="1119.6" text-anchor="middle" class="t">Up</text>
<rect x="1528.80" y="82.60" width="110.80" height="1006.40" fill="none" stroke="#333" stroke-width="1.4"/>
<rect x="1528.80" y="18.80" width="110.80" height="63.80" fill="#d9d9d9" stroke="#333" stroke-width="1.4"/>
<line x1="1528.20" x2="1640.20" y1="82.60" y2="82.60" stroke="#333" stroke-width="2.4"/>
<text x="1585.80" y="44.2" text-anchor="middle" class="t">Training</text>
<text x="1585.80" y="64.2" text-anchor="middle" class="t">aerobic</text>
<line x1="1558.50" x2="1558.50" y1="1089.60" y2="1095.60" stroke="#333" stroke-width="2.2"/>
<text x="1558.50" y="1119.6" text-anchor="middle" class="t">Down</text>
<line x1="1609.60" x2="1609.60" y1="1089.60" y2="1095.60" stroke="#333" stroke-width="2.2"/>
<text x="1609.60" y="1119.6" text-anchor="middle" class="t">Up</text>
<rect x="1653.60" y="82.60" width="110.80" height="1006.40" fill="none" stroke="#333" stroke-width="1.4"/>
<rect x="1653.60" y="18.80" width="110.80" height="63.80" fill="#d9d9d9" stroke="#333" stroke-width="1.4"/>
<line x1="1653.00" x2="1765.00" y1="82.60" y2="82.60" stroke="#333" stroke-width="2.4"/>
<text x="1707.00" y="44.2" text-anchor="middle" class="t">Training</text>
<text x="1707.00" y="64.2" text-anchor="middle" class="t">resistance</text>
<line x1="1683.30" x2="1683.30" y1="1089.60" y2="1095.60" stroke="#333" stroke-width="2.2"/>
<text x="1683.30" y="1119.6" text-anchor="middle" class="t">Down</text>
<line x1="1734.40" x2="1734.40" y1="1089.60" y2="1095.60" stroke="#333" stroke-width="2.2"/>
<text x="1734.40" y="1119.6" text-anchor="middle" class="t">Up</text>
<text x="1134.8" y="124.15" text-anchor="end" class="t">Response to unfolded protein</text>
<line x1="1147.0" x2="1153.9" y1="117.15" y2="117.15" stroke="#333" stroke-width="2.2"/>
<text x="1134.8" y="182.75" text-anchor="end" class="t">Cellular response to external stimulus</text>
<line x1="1147.0" x2="1153.9" y1="175.75" y2="175.75" stroke="#333" stroke-width="2.2"/>
<text x="1134.8" y="241.35" text-anchor="end" class="t">Negative regulation of kinase activity</text>
<line x1="1147.0" x2="1153.9" y1="234.35" y2="234.35" stroke="#333" stroke-width="2.2"/>
<text x="1134.8" y="299.95" text-anchor="end" class="t">Regulation of lipid metabolic process</text>
<line x1="1147.0" x2="1153.9" y1="292.95" y2="292.95" stroke="#333" stroke-width="2.2"/>
<text x="1134.8" y="358.55" text-anchor="end" class="t">Regulation of protein complex assembly</text>
<line x1="1147.0" x2="1153.9" y1="351.55" y2="351.55" stroke="#333" stroke-width="2.2"/>
<text x="1134.8" y="417.15" text-anchor="end" class="t">Regulation of mRNA metabolic process</text>
<line x1="1147.0" x2="1153.9" y1="410.15" y2="410.15" stroke="#333" stroke-width="2.2"/>
<text x="1134.8" y="475.75" text-anchor="end" class="t">Ribonucleoprotein complex biogenesis</text>
<line x1="1147.0" x2="1153.9" y1="468.75" y2="468.75" stroke="#333" stroke-width="2.2"/>
<text x="1134.8" y="534.35" text-anchor="end" class="t">Extracellular structure organization</text>
<line x1="1147.0" x2="1153.9" y1="527.35" y2="527.35" stroke="#333" stroke-width="2.2"/>
<text x="1134.8" y="592.95" text-anchor="end" class="t">RNA splicing</text>
<line x1="1147.0" x2="1153.9" y1="585.95" y2="585.95" stroke="#333" stroke-width="2.2"/>
<text x="1134.8" y="651.55" text-anchor="end" class="t">Smoothened signaling pathway</text>
<line x1="1147.0" x2="1153.9" y1="644.55" y2="644.55" stroke="#333" stroke-width="2.2"/>
<text x="1134.8" y="710.15" text-anchor="end" class="t">GPI anchor metabolic process</text>
<line x1="1147.0" x2="1153.9" y1="703.15" y2="703.15" stroke="#333" stroke-width="2.2"/>
<text x="1134.8" y="768.75" text-anchor="end" class="t">Generation of precursor metabolites and energy</text>
<line x1="1147.0" x2="1153.9" y1="761.75" y2="761.75" stroke="#333" stroke-width="2.2"/>
<text x="1134.8" y="827.35" text-anchor="end" class="t">Cellular respiration</text>
<line x1="1147.0" x2="1153.9" y1="820.35" y2="820.35" stroke="#333" stroke-width="2.2"/>
<text x="1134.8" y="885.95" text-anchor="end" class="t">Energy derivationby oxidation of organic compounds</text>
<line x1="1147.0" x2="1153.9" y1="878.95" y2="878.95" stroke="#333" stroke-width="2.2"/>
<text x="1134.8" y="944.55" text-anchor="end" class="t">Regulation of chromosome organization</text>
<line x1="1147.0" x2="1153.9" y1="937.55" y2="937.55" stroke="#333" stroke-width="2.2"/>
<text x="1134.8" y="1003.15" text-anchor="end" class="t">Cotranslational protein targeting to membrane</text>
<line x1="1147.0" x2="1153.9" y1="996.15" y2="996.15" stroke="#333" stroke-width="2.2"/>
<text x="1134.8" y="1061.75" text-anchor="end" class="t">Extracellular matriz reorganization</text>
<line x1="1147.0" x2="1153.9" y1="1054.75" y2="1054.75" stroke="#333" stroke-width="2.2"/>
<text x="1802.7" y="398" class="t">GeneRatio</text>
<circle cx="1823.7" cy="438.3" r="10.9" fill="#000"/>
<circle cx="1823.7" cy="478.4" r="14.3" fill="#000"/>
<text x="1856" y="446.2" class="t">0.05</text>
<text x="1856" y="485.3" class="t">0.10</text>
<text x="1807" y="571.8" class="t">P.adjust</text>
<rect x="1803.5" y="588.4" width="40.5" height="203.4" fill="url(#pgrad)"/>
<line x1="1803.5" x2="1811.6" y1="639.8" y2="639.8" stroke="#fff" stroke-width="1.2"/>
<line x1="1835.9" x2="1844" y1="639.8" y2="639.8" stroke="#fff" stroke-width="1.2"/>
<text x="1854.5" y="646.00" class="t">0.01</text>
<line x1="1803.5" x2="1811.6" y1="686.2" y2="686.2" stroke="#fff" stroke-width="1.2"/>
<line x1="1835.9" x2="1844" y1="686.2" y2="686.2" stroke="#fff" stroke-width="1.2"/>
<text x="1854.5" y="692.40" class="t">0.02</text>
<line x1="1803.5" x2="1811.6" y1="732.3" y2="732.3" stroke="#fff" stroke-width="1.2"/>
<line x1="1835.9" x2="1844" y1="732.3" y2="732.3" stroke="#fff" stroke-width="1.2"/>
<text x="1854.5" y="738.50" class="t">0.03</text>
<line x1="1803.5" x2="1811.6" y1="778.2" y2="778.2" stroke="#fff" stroke-width="1.2"/>
<line x1="1835.9" x2="1844" y1="778.2" y2="778.2" stroke="#fff" stroke-width="1.2"/>
<text x="1854.5" y="784.40" class="t">0.04</text>
</g>
<g id="panel-c">
<text x="116" y="1219.8" class="t">Lipid metabolism</text>
<rect x="113.6" y="1255.2" width="609.70" height="348.10" fill="#fff"/>
<clipPath id="cp-panel-c"><rect x="113.6" y="1255.2" width="607.45" height="348.10"/></clipPath>
<g clip-path="url(#cp-panel-c)">
<line x1="113.6" x2="723.3" y1="1299.47" y2="1299.47" stroke="#ebebeb" stroke-width="1.8"/>
<line x1="113.6" x2="723.3" y1="1381.22" y2="1381.22" stroke="#ebebeb" stroke-width="1.8"/>
<line x1="113.6" x2="723.3" y1="1462.97" y2="1462.97" stroke="#ebebeb" stroke-width="1.8"/>
<line x1="113.6" x2="723.3" y1="1544.72" y2="1544.72" stroke="#ebebeb" stroke-width="1.8"/>
<line x1="113.6" x2="723.3" y1="1258.60" y2="1258.60" stroke="#ebebeb" stroke-width="3.6"/>
<line x1="113.6" x2="723.3" y1="1340.35" y2="1340.35" stroke="#ebebeb" stroke-width="3.6"/>
<line x1="113.6" x2="723.3" y1="1422.10" y2="1422.10" stroke="#ebebeb" stroke-width="3.6"/>
<line x1="113.6" x2="723.3" y1="1503.85" y2="1503.85" stroke="#ebebeb" stroke-width="3.6"/>
<line x1="113.6" x2="723.3" y1="1585.60" y2="1585.60" stroke="#ebebeb" stroke-width="3.6"/>
<line x1="183.10" x2="183.10" y1="1255.2" y2="1603.3" stroke="#ebebeb" stroke-width="3.6"/>
<line x1="300.50" x2="300.50" y1="1255.2" y2="1603.3" stroke="#ebebeb" stroke-width="3.6"/>
<line x1="417.90" x2="417.90" y1="1255.2" y2="1603.3" stroke="#ebebeb" stroke-width="3.6"/>
<line x1="535.30" x2="535.30" y1="1255.2" y2="1603.3" stroke="#ebebeb" stroke-width="3.6"/>
<line x1="652.80" x2="652.80" y1="1255.2" y2="1603.3" stroke="#ebebeb" stroke-width="3.6"/>
</g>
<rect x="130.75" y="1358.80" width="105.70" height="6.80" fill="#8dd3c7" stroke="#000" stroke-width="1.4"/>
<rect x="130.75" y="1365.60" width="105.70" height="5.90" fill="#ffffb3" stroke="#000" stroke-width="1.4"/>
<rect x="130.75" y="1371.50" width="105.70" height="13.70" fill="#bebada" stroke="#000" stroke-width="1.4"/>
<rect x="130.75" y="1385.20" width="105.70" height="33.20" fill="#fdb462" stroke="#000" stroke-width="1.4"/>
<rect x="130.75" y="1418.40" width="105.70" height="3.70" fill="#fccde5" stroke="#000" stroke-width="1.4"/>
<rect x="130.75" y="1422.10" width="105.70" height="6.80" fill="#80b1d3" stroke="#000" stroke-width="1.4"/>
<rect x="130.75" y="1428.90" width="105.70" height="6.40" fill="#fb8072" stroke="#000" stroke-width="1.4"/>
<rect x="248.15" y="1321.20" width="105.70" height="12.30" fill="#bebada" stroke="#000" stroke-width="1.4"/>
<rect x="248.15" y="1333.50" width="105.70" height="7.70" fill="#80b1d3" stroke="#000" stroke-width="1.4"/>
<rect x="248.15" y="1341.20" width="105.70" height="54.30" fill="#fdb462" stroke="#000" stroke-width="1.4"/>
<rect x="248.15" y="1395.50" width="105.70" height="1.50" fill="#b3de69" stroke="#000" stroke-width="1.4"/>
<rect x="248.15" y="1397.00" width="105.70" height="25.10" fill="#fccde5" stroke="#000" stroke-width="1.4"/>
<rect x="248.15" y="1422.10" width="105.70" height="9.00" fill="#fb8072" stroke="#000" stroke-width="1.4"/>
<rect x="248.15" y="1431.10" width="105.70" height="6.40" fill="#ffffb3" stroke="#000" stroke-width="1.4"/>
<rect x="248.15" y="1437.50" width="105.70" height="14.00" fill="#8dd3c7" stroke="#000" stroke-width="1.4"/>
<rect x="365.55" y="1385.10" width="105.70" height="8.80" fill="#fb8072" stroke="#000" stroke-width="1.4"/>
<rect x="365.55" y="1393.90" width="105.70" height="28.20" fill="#fdb462" stroke="#000" stroke-width="1.4"/>
<rect x="365.55" y="1422.10" width="105.70" height="23.30" fill="#fccde5" stroke="#000" stroke-width="1.4"/>
<rect x="365.55" y="1445.40" width="105.70" height="28.80" fill="#b3de69" stroke="#000" stroke-width="1.4"/>
<rect x="365.55" y="1474.20" width="105.70" height="14.30" fill="#80b1d3" stroke="#000" stroke-width="1.4"/>
<rect x="365.55" y="1488.50" width="105.70" height="13.90" fill="#bebada" stroke="#000" stroke-width="1.4"/>
<rect x="365.55" y="1502.40" width="105.70" height="56.90" fill="#ffffb3" stroke="#000" stroke-width="1.4"/>
<rect x="365.55" y="1559.30" width="105.70" height="29.10" fill="#8dd3c7" stroke="#000" stroke-width="1.4"/>
<rect x="482.95" y="1270.50" width="105.70" height="43.90" fill="#8dd3c7" stroke="#000" stroke-width="1.4"/>
<rect x="482.95" y="1314.40" width="105.70" height="12.70" fill="#ffffb3" stroke="#000" stroke-width="1.4"/>
<rect x="482.95" y="1327.10" width="105.70" height="13.00" fill="#bebada" stroke="#000" stroke-width="1.4"/>
<rect x="482.95" y="1340.10" width="105.70" height="17.80" fill="#fb8072" stroke="#000" stroke-width="1.4"/>
<rect x="482.95" y="1357.90" width="105.70" height="9.10" fill="#80b1d3" stroke="#000" stroke-width="1.4"/>
<rect x="482.95" y="1367.00" width="105.70" height="11.90" fill="#b3de69" stroke="#000" stroke-width="1.4"/>
<rect x="482.95" y="1378.90" width="105.70" height="43.20" fill="#fccde5" stroke="#000" stroke-width="1.4"/>
<rect x="482.95" y="1422.10" width="105.70" height="19.20" fill="#fdb462" stroke="#000" stroke-width="1.4"/>
<rect x="600.45" y="1389.40" width="105.70" height="32.70" fill="#fccde5" stroke="#000" stroke-width="1.4"/>
<rect x="600.45" y="1422.10" width="105.70" height="3.50" fill="#b3de69" stroke="#000" stroke-width="1.4"/>
<rect x="600.45" y="1425.60" width="105.70" height="1.60" fill="#fdb462" stroke="#000" stroke-width="1.4"/>
<rect x="600.45" y="1427.20" width="105.70" height="7.20" fill="#80b1d3" stroke="#000" stroke-width="1.4"/>
<rect x="600.45" y="1434.40" width="105.70" height="7.60" fill="#fb8072" stroke="#000" stroke-width="1.4"/>
<rect x="600.45" y="1442.00" width="105.70" height="31.20" fill="#ffffb3" stroke="#000" stroke-width="1.4"/>
<rect x="600.45" y="1473.20" width="105.70" height="5.40" fill="#8dd3c7" stroke="#000" stroke-width="1.4"/>
<line x1="112.70" x2="722.85" y1="1422.10" y2="1422.10" stroke="#000" stroke-width="3.7" stroke-dasharray="3.8 11.42"/>
<path d="M113.75 1603.30V1255.20H722.85" fill="none" stroke="#333" stroke-width="1.7" stroke-linecap="square"/>
<path d="M113.75 1603.30H722.85V1255.20" fill="none" stroke="#333" stroke-width="2.5" stroke-linecap="square"/>
<line x1="101.60" x2="113.6" y1="1258.60" y2="1258.60" stroke="#333" stroke-width="3.6"/>
<text x="94.4" y="1266.00" text-anchor="end" class="t">0.4</text>
<line x1="101.60" x2="113.6" y1="1340.35" y2="1340.35" stroke="#333" stroke-width="3.6"/>
<text x="94.4" y="1347.75" text-anchor="end" class="t">0.2</text>
<line x1="101.60" x2="113.6" y1="1422.10" y2="1422.10" stroke="#333" stroke-width="3.6"/>
<text x="94.4" y="1429.50" text-anchor="end" class="t">0.0</text>
<line x1="101.60" x2="113.6" y1="1503.85" y2="1503.85" stroke="#333" stroke-width="3.6"/>
<text x="94.4" y="1511.25" text-anchor="end" class="t">−0.2</text>
<line x1="101.60" x2="113.6" y1="1585.60" y2="1585.60" stroke="#333" stroke-width="3.6"/>
<text x="94.4" y="1593.00" text-anchor="end" class="t">−0.4</text>
<line x1="183.10" x2="183.10" y1="1603.3" y2="1615.60" stroke="#333" stroke-width="3.6"/>
<text x="183.10" y="1643.9" text-anchor="middle" class="t">Acute</text>
<text x="183.10" y="1667.6" text-anchor="middle" class="t">aerobic</text>
<line x1="300.50" x2="300.50" y1="1603.3" y2="1615.60" stroke="#333" stroke-width="3.6"/>
<text x="300.50" y="1643.9" text-anchor="middle" class="t">Acute</text>
<text x="300.50" y="1667.6" text-anchor="middle" class="t">resistance</text>
<line x1="417.90" x2="417.90" y1="1603.3" y2="1615.60" stroke="#333" stroke-width="3.6"/>
<text x="417.60" y="1643.9" text-anchor="middle" class="t">Inactivity</text>
<line x1="535.30" x2="535.30" y1="1603.3" y2="1615.60" stroke="#333" stroke-width="3.6"/>
<text x="535.30" y="1643.9" text-anchor="middle" class="t">Training</text>
<text x="535.30" y="1667.6" text-anchor="middle" class="t">aerobic</text>
<line x1="652.80" x2="652.80" y1="1603.3" y2="1615.60" stroke="#333" stroke-width="3.6"/>
<text x="652.80" y="1643.9" text-anchor="middle" class="t">Training</text>
<text x="652.80" y="1667.6" text-anchor="middle" class="t">resistance</text>
<text transform="translate(46,1435.5) rotate(-90)" text-anchor="middle" class="t">logFC</text>
<rect x="789.70" y="1327.60" width="31.5" height="268.59" fill="#8c8c8c"/>
<rect x="789.90" y="1327.80" width="31.1" height="31.1" fill="#8dd3c7" stroke="#222" stroke-width="1.4"/>
<text x="829.9" y="1349.70" class="t">ACAD</text>
<rect x="789.90" y="1361.67" width="31.1" height="31.1" fill="#ffffb3" stroke="#222" stroke-width="1.4"/>
<text x="829.9" y="1383.83" class="t">ACAT</text>
<rect x="789.90" y="1395.54" width="31.1" height="31.1" fill="#bebada" stroke="#222" stroke-width="1.4"/>
<text x="829.9" y="1417.96" class="t">ACOT</text>
<rect x="789.90" y="1429.41" width="31.1" height="31.1" fill="#fb8072" stroke="#222" stroke-width="1.4"/>
<text x="829.9" y="1452.09" class="t">ACOX</text>
<rect x="789.90" y="1463.28" width="31.1" height="31.1" fill="#80b1d3" stroke="#222" stroke-width="1.4"/>
<text x="829.9" y="1486.22" class="t">ACS</text>
<rect x="789.90" y="1497.15" width="31.1" height="31.1" fill="#fdb462" stroke="#222" stroke-width="1.4"/>
<text x="829.9" y="1520.35" class="t">AMPK</text>
<rect x="789.90" y="1531.02" width="31.1" height="31.1" fill="#b3de69" stroke="#222" stroke-width="1.4"/>
<text x="829.9" y="1554.48" class="t">CPT</text>
<rect x="789.90" y="1564.89" width="31.1" height="31.1" fill="#fccde5" stroke="#222" stroke-width="1.4"/>
<text x="829.9" y="1588.61" class="t">FABP</text>
</g>
<g id="panel-d">
<text x="1041.9" y="1217.6" class="t">Mitochondrial respiratory chain</text>
<rect x="1037.1" y="1255.5" width="554.90" height="347.40" fill="#fff"/>
<clipPath id="cp-panel-d"><rect x="1037.1" y="1255.5" width="552.90" height="347.40"/></clipPath>
<g clip-path="url(#cp-panel-d)">
<line x1="1037.1" x2="1592" y1="1319.40" y2="1319.40" stroke="#ebebeb" stroke-width="1.8"/>
<line x1="1037.1" x2="1592" y1="1432.60" y2="1432.60" stroke="#ebebeb" stroke-width="1.8"/>
<line x1="1037.1" x2="1592" y1="1545.80" y2="1545.80" stroke="#ebebeb" stroke-width="1.8"/>
<line x1="1037.1" x2="1592" y1="1262.80" y2="1262.80" stroke="#ebebeb" stroke-width="3.6"/>
<line x1="1037.1" x2="1592" y1="1376.00" y2="1376.00" stroke="#ebebeb" stroke-width="3.6"/>
<line x1="1037.1" x2="1592" y1="1489.20" y2="1489.20" stroke="#ebebeb" stroke-width="3.6"/>
<line x1="1037.1" x2="1592" y1="1602.40" y2="1602.40" stroke="#ebebeb" stroke-width="3.6"/>
<line x1="1100.90" x2="1100.90" y1="1255.5" y2="1602.9" stroke="#ebebeb" stroke-width="3.6"/>
<line x1="1207.80" x2="1207.80" y1="1255.5" y2="1602.9" stroke="#ebebeb" stroke-width="3.6"/>
<line x1="1314.30" x2="1314.30" y1="1255.5" y2="1602.9" stroke="#ebebeb" stroke-width="3.6"/>
<line x1="1421.30" x2="1421.30" y1="1255.5" y2="1602.9" stroke="#ebebeb" stroke-width="3.6"/>
<line x1="1528.20" x2="1528.20" y1="1255.5" y2="1602.9" stroke="#ebebeb" stroke-width="3.6"/>
</g>
<rect x="1052.75" y="1349.56" width="96.30" height="16.67" fill="#fb8072" stroke="#000" stroke-width="1.4"/>
<rect x="1052.75" y="1366.23" width="96.30" height="10.33" fill="#80b1d3" stroke="#000" stroke-width="1.4"/>
<rect x="1052.75" y="1376.56" width="96.30" height="1.09" fill="#bebada" stroke="#000" stroke-width="1.4"/>
<rect x="1052.75" y="1377.65" width="96.30" height="6.34" fill="#8dd3c7" stroke="#000" stroke-width="1.4"/>
<rect x="1159.65" y="1369.50" width="96.30" height="6.52" fill="#ffffb3" stroke="#000" stroke-width="1.4"/>
<rect x="1159.65" y="1376.02" width="96.30" height="5.07" fill="#80b1d3" stroke="#000" stroke-width="1.4"/>
<rect x="1159.65" y="1381.09" width="96.30" height="9.79" fill="#bebada" stroke="#000" stroke-width="1.4"/>
<rect x="1159.65" y="1390.88" width="96.30" height="4.35" fill="#8dd3c7" stroke="#000" stroke-width="1.4"/>
<rect x="1266.15" y="1376.02" width="96.30" height="44.94" fill="#80b1d3" stroke="#000" stroke-width="1.4"/>
<rect x="1266.15" y="1420.96" width="96.30" height="37.69" fill="#fb8072" stroke="#000" stroke-width="1.4"/>
<rect x="1266.15" y="1458.66" width="96.30" height="51.47" fill="#bebada" stroke="#000" stroke-width="1.4"/>
<rect x="1266.15" y="1510.13" width="96.30" height="41.68" fill="#ffffb3" stroke="#000" stroke-width="1.4"/>
<rect x="1266.15" y="1551.81" width="96.30" height="36.97" fill="#8dd3c7" stroke="#000" stroke-width="1.4"/>
<rect x="1373.15" y="1270.55" width="96.30" height="11.60" fill="#8dd3c7" stroke="#000" stroke-width="1.4"/>
<rect x="1373.15" y="1282.15" width="96.30" height="28.63" fill="#ffffb3" stroke="#000" stroke-width="1.4"/>
<rect x="1373.15" y="1310.78" width="96.30" height="23.92" fill="#bebada" stroke="#000" stroke-width="1.4"/>
<rect x="1373.15" y="1334.70" width="96.30" height="18.12" fill="#fb8072" stroke="#000" stroke-width="1.4"/>
<rect x="1373.15" y="1352.82" width="96.30" height="23.20" fill="#80b1d3" stroke="#000" stroke-width="1.4"/>
<rect x="1480.05" y="1369.50" width="96.30" height="1.09" fill="#ffffb3" stroke="#000" stroke-width="1.4"/>
<rect x="1480.05" y="1370.58" width="96.30" height="5.44" fill="#fb8072" stroke="#000" stroke-width="1.4"/>
<rect x="1480.05" y="1376.02" width="96.30" height="5.44" fill="#80b1d3" stroke="#000" stroke-width="1.4"/>
<rect x="1480.05" y="1381.46" width="96.30" height="1.45" fill="#bebada" stroke="#000" stroke-width="1.4"/>
<line x1="1036.20" x2="1591.80" y1="1376.00" y2="1376.00" stroke="#000" stroke-width="3.7" stroke-dasharray="3.8 11.42"/>
<path d="M1037.25 1602.90V1255.50H1591.80" fill="none" stroke="#333" stroke-width="1.7" stroke-linecap="square"/>
<path d="M1037.25 1602.90H1591.80V1255.50" fill="none" stroke="#333" stroke-width="2.5" stroke-linecap="square"/>
<line x1="1025.10" x2="1037.1" y1="1262.80" y2="1262.80" stroke="#333" stroke-width="3.6"/>
<text x="1017.5" y="1269.10" text-anchor="end" class="t">0.5</text>
<line x1="1025.10" x2="1037.1" y1="1376.00" y2="1376.00" stroke="#333" stroke-width="3.6"/>
<text x="1017.5" y="1382.30" text-anchor="end" class="t">0.0</text>
<line x1="1025.10" x2="1037.1" y1="1489.20" y2="1489.20" stroke="#333" stroke-width="3.6"/>
<text x="1017.5" y="1495.50" text-anchor="end" class="t">−0.5</text>
<line x1="1025.10" x2="1037.1" y1="1602.40" y2="1602.40" stroke="#333" stroke-width="3.6"/>
<text x="1017.5" y="1608.70" text-anchor="end" class="t">−1.0</text>
<line x1="1100.90" x2="1100.90" y1="1602.9" y2="1615.20" stroke="#333" stroke-width="3.6"/>
<text x="1100.90" y="1643.9" text-anchor="middle" class="t">Acute</text>
<text x="1100.90" y="1667.6" text-anchor="middle" class="t">aerobic</text>
<line x1="1207.80" x2="1207.80" y1="1602.9" y2="1615.20" stroke="#333" stroke-width="3.6"/>
<text x="1207.80" y="1643.9" text-anchor="middle" class="t">Acute</text>
<text x="1207.80" y="1667.6" text-anchor="middle" class="t">resistance</text>
<line x1="1314.30" x2="1314.30" y1="1602.9" y2="1615.20" stroke="#333" stroke-width="3.6"/>
<text x="1314.00" y="1643.9" text-anchor="middle" class="t">Inactivity</text>
<line x1="1421.30" x2="1421.30" y1="1602.9" y2="1615.20" stroke="#333" stroke-width="3.6"/>
<text x="1421.30" y="1643.9" text-anchor="middle" class="t">Training</text>
<text x="1421.30" y="1667.6" text-anchor="middle" class="t">aerobic</text>
<line x1="1528.20" x2="1528.20" y1="1602.9" y2="1615.20" stroke="#333" stroke-width="3.6"/>
<text x="1528.20" y="1643.9" text-anchor="middle" class="t">Training</text>
<text x="1528.20" y="1667.6" text-anchor="middle" class="t">resistance</text>
<text transform="translate(951,1435.5) rotate(-90)" text-anchor="middle" class="t">logFC</text>
<rect x="1658.60" y="1378.30" width="31.5" height="166.62" fill="#8c8c8c"/>
<rect x="1658.80" y="1378.50" width="31.1" height="31.1" fill="#8dd3c7" stroke="#222" stroke-width="1.4"/>
<text x="1698.7" y="1398.85" class="t">Complex I</text>
<rect x="1658.80" y="1412.28" width="31.1" height="31.1" fill="#ffffb3" stroke="#222" stroke-width="1.4"/>
<text x="1698.7" y="1433.79" class="t">Complex II</text>
<rect x="1658.80" y="1446.06" width="31.1" height="31.1" fill="#bebada" stroke="#222" stroke-width="1.4"/>
<text x="1698.7" y="1468.73" class="t">Complex III</text>
<rect x="1658.80" y="1479.84" width="31.1" height="31.1" fill="#fb8072" stroke="#222" stroke-width="1.4"/>
<text x="1698.7" y="1503.67" class="t">Complex IV</text>
<rect x="1658.80" y="1513.62" width="31.1" height="31.1" fill="#80b1d3" stroke="#222" stroke-width="1.4"/>
<text x="1698.7" y="1538.61" class="t">Complex V</text>
</g>
<g id="panel-e">
<text x="88" y="1785.2" class="t">Cytokines</text>
<rect x="85.9" y="1816.3" width="615.30" height="347.60" fill="#fff"/>
<clipPath id="cp-panel-e"><rect x="85.9" y="1816.3" width="612.20" height="347.60"/></clipPath>
<g clip-path="url(#cp-panel-e)">
<line x1="85.9" x2="701.2" y1="1889.90" y2="1889.90" stroke="#ebebeb" stroke-width="1.8"/>
<line x1="85.9" x2="701.2" y1="2009.30" y2="2009.30" stroke="#ebebeb" stroke-width="1.8"/>
<line x1="85.9" x2="701.2" y1="2128.70" y2="2128.70" stroke="#ebebeb" stroke-width="1.8"/>
<line x1="85.9" x2="701.2" y1="1830.20" y2="1830.20" stroke="#ebebeb" stroke-width="3.6"/>
<line x1="85.9" x2="701.2" y1="1949.60" y2="1949.60" stroke="#ebebeb" stroke-width="3.6"/>
<line x1="85.9" x2="701.2" y1="2069.00" y2="2069.00" stroke="#ebebeb" stroke-width="3.6"/>
<line x1="156.20" x2="156.20" y1="1816.3" y2="2163.9" stroke="#ebebeb" stroke-width="3.6"/>
<line x1="274.70" x2="274.70" y1="1816.3" y2="2163.9" stroke="#ebebeb" stroke-width="3.6"/>
<line x1="393.30" x2="393.30" y1="1816.3" y2="2163.9" stroke="#ebebeb" stroke-width="3.6"/>
<line x1="511.40" x2="511.40" y1="1816.3" y2="2163.9" stroke="#ebebeb" stroke-width="3.6"/>
<line x1="629.90" x2="629.90" y1="1816.3" y2="2163.9" stroke="#ebebeb" stroke-width="3.6"/>
</g>
<rect x="103.50" y="1831.21" width="106.00" height="79.38" fill="#8dd3c7" stroke="#000" stroke-width="1.4"/>
<rect x="103.50" y="1910.58" width="106.00" height="60.17" fill="#ffffb3" stroke="#000" stroke-width="1.4"/>
<rect x="103.50" y="1970.75" width="106.00" height="9.42" fill="#bebada" stroke="#000" stroke-width="1.4"/>
<rect x="103.50" y="1980.17" width="106.00" height="48.57" fill="#fb8072" stroke="#000" stroke-width="1.4"/>
<rect x="103.50" y="2028.74" width="106.00" height="3.62" fill="#fdb462" stroke="#000" stroke-width="1.4"/>
<rect x="103.50" y="2032.37" width="106.00" height="32.98" fill="#b3de69" stroke="#000" stroke-width="1.4"/>
<rect x="103.50" y="2065.35" width="106.00" height="3.62" fill="#d9d9d9" stroke="#000" stroke-width="1.4"/>
<rect x="103.50" y="2068.97" width="106.00" height="25.01" fill="#fccde5" stroke="#000" stroke-width="1.4"/>
<rect x="222.00" y="1998.66" width="106.00" height="48.21" fill="#8dd3c7" stroke="#000" stroke-width="1.4"/>
<rect x="222.00" y="2046.86" width="106.00" height="12.69" fill="#bebada" stroke="#000" stroke-width="1.4"/>
<rect x="222.00" y="2059.55" width="106.00" height="0.91" fill="#fb8072" stroke="#000" stroke-width="1.4"/>
<rect x="222.00" y="2060.46" width="106.00" height="2.17" fill="#fdb462" stroke="#000" stroke-width="1.4"/>
<rect x="222.00" y="2062.63" width="106.00" height="1.09" fill="#b3de69" stroke="#000" stroke-width="1.4"/>
<rect x="222.00" y="2063.72" width="106.00" height="5.26" fill="#d9d9d9" stroke="#000" stroke-width="1.4"/>
<rect x="222.00" y="2068.97" width="106.00" height="57.99" fill="#fccde5" stroke="#000" stroke-width="1.4"/>
<rect x="222.00" y="2126.97" width="106.00" height="1.45" fill="#fb8072" stroke="#000" stroke-width="1.4"/>
<rect x="222.00" y="2128.78" width="106.00" height="20.66" fill="#ffffb3" stroke="#000" stroke-width="1.4"/>
<rect x="340.60" y="1978.72" width="106.00" height="18.85" fill="#8dd3c7" stroke="#000" stroke-width="1.4"/>
<rect x="340.60" y="1997.57" width="106.00" height="10.15" fill="#ffffb3" stroke="#000" stroke-width="1.4"/>
<rect x="340.60" y="2007.72" width="106.00" height="6.16" fill="#bebada" stroke="#000" stroke-width="1.4"/>
<rect x="340.60" y="2013.88" width="106.00" height="4.35" fill="#fb8072" stroke="#000" stroke-width="1.4"/>
<rect x="340.60" y="2018.23" width="106.00" height="13.41" fill="#b3de69" stroke="#000" stroke-width="1.4"/>
<rect x="340.60" y="2031.64" width="106.00" height="37.33" fill="#fccde5" stroke="#000" stroke-width="1.4"/>
<rect x="340.60" y="2068.97" width="106.00" height="3.62" fill="#d9d9d9" stroke="#000" stroke-width="1.4"/>
<rect x="340.60" y="2072.60" width="106.00" height="2.54" fill="#fdb462" stroke="#000" stroke-width="1.4"/>
<rect x="340.60" y="2075.14" width="106.00" height="4.35" fill="#80b1d3" stroke="#000" stroke-width="1.4"/>
<rect x="458.70" y="2056.65" width="106.00" height="2.90" fill="#8dd3c7" stroke="#000" stroke-width="1.4"/>
<rect x="458.70" y="2059.55" width="106.00" height="5.07" fill="#ffffb3" stroke="#000" stroke-width="1.4"/>
<rect x="458.70" y="2064.62" width="106.00" height="2.17" fill="#bebada" stroke="#000" stroke-width="1.4"/>
<rect x="458.70" y="2066.80" width="106.00" height="2.17" fill="#fb8072" stroke="#000" stroke-width="1.4"/>
<rect x="458.70" y="2068.97" width="106.00" height="18.85" fill="#fccde5" stroke="#000" stroke-width="1.4"/>
<rect x="458.70" y="2087.82" width="106.00" height="1.09" fill="#b3de69" stroke="#000" stroke-width="1.4"/>
<rect x="458.70" y="2088.91" width="106.00" height="1.09" fill="#fdb462" stroke="#000" stroke-width="1.4"/>
<rect x="458.70" y="2090.00" width="106.00" height="1.09" fill="#80b1d3" stroke="#000" stroke-width="1.4"/>
<rect x="458.70" y="2091.08" width="106.00" height="1.09" fill="#d9d9d9" stroke="#000" stroke-width="1.4"/>
<rect x="577.20" y="2056.65" width="106.00" height="5.80" fill="#8dd3c7" stroke="#000" stroke-width="1.4"/>
<rect x="577.20" y="2062.45" width="106.00" height="6.52" fill="#ffffb3" stroke="#000" stroke-width="1.4"/>
<rect x="577.20" y="2068.97" width="106.00" height="16.67" fill="#fccde5" stroke="#000" stroke-width="1.4"/>
<rect x="577.20" y="2085.65" width="106.00" height="4.35" fill="#b3de69" stroke="#000" stroke-width="1.4"/>
<rect x="577.20" y="2090.00" width="106.00" height="1.45" fill="#fdb462" stroke="#000" stroke-width="1.4"/>
<rect x="577.20" y="2091.45" width="106.00" height="3.62" fill="#fb8072" stroke="#000" stroke-width="1.4"/>
<rect x="577.20" y="2095.07" width="106.00" height="3.62" fill="#bebada" stroke="#000" stroke-width="1.4"/>
<line x1="85.00" x2="699.90" y1="2069.00" y2="2069.00" stroke="#000" stroke-width="3.7" stroke-dasharray="3.8 11.42"/>
<path d="M86.05 2163.70V1816.30H699.90" fill="none" stroke="#333" stroke-width="1.7" stroke-linecap="square"/>
<path d="M86.05 2163.70H699.90V1816.30" fill="none" stroke="#333" stroke-width="2.5" stroke-linecap="square"/>
<line x1="73.90" x2="85.9" y1="1830.20" y2="1830.20" stroke="#333" stroke-width="3.6"/>
<text x="62" y="1836.50" text-anchor="end" class="t">4</text>
<line x1="73.90" x2="85.9" y1="1949.60" y2="1949.60" stroke="#333" stroke-width="3.6"/>
<text x="62" y="1955.90" text-anchor="end" class="t">2</text>
<line x1="73.90" x2="85.9" y1="2069.00" y2="2069.00" stroke="#333" stroke-width="3.6"/>
<text x="62" y="2075.30" text-anchor="end" class="t">0</text>
<line x1="156.20" x2="156.20" y1="2163.9" y2="2176.20" stroke="#333" stroke-width="3.6"/>
<text x="156.20" y="2203" text-anchor="middle" class="t">Acute</text>
<text x="156.20" y="2227.6" text-anchor="middle" class="t">aerobic</text>
<line x1="274.70" x2="274.70" y1="2163.9" y2="2176.20" stroke="#333" stroke-width="3.6"/>
<text x="274.70" y="2203" text-anchor="middle" class="t">Acute</text>
<text x="274.70" y="2227.6" text-anchor="middle" class="t">resistance</text>
<line x1="393.30" x2="393.30" y1="2163.9" y2="2176.20" stroke="#333" stroke-width="3.6"/>
<text x="393.00" y="2203" text-anchor="middle" class="t">Inactivity</text>
<line x1="511.40" x2="511.40" y1="2163.9" y2="2176.20" stroke="#333" stroke-width="3.6"/>
<text x="511.40" y="2203" text-anchor="middle" class="t">Training</text>
<text x="511.40" y="2227.6" text-anchor="middle" class="t">aerobic</text>
<line x1="629.90" x2="629.90" y1="2163.9" y2="2176.20" stroke="#333" stroke-width="3.6"/>
<text x="629.90" y="2203" text-anchor="middle" class="t">Training</text>
<text x="629.90" y="2227.6" text-anchor="middle" class="t">resistance</text>
<text transform="translate(42,1996) rotate(-90)" text-anchor="middle" class="t">logFC</text>
<rect x="767.50" y="1871.00" width="31.5" height="301.34" fill="#8c8c8c"/>
<rect x="767.70" y="1871.20" width="31.1" height="31.1" fill="#8dd3c7" stroke="#222" stroke-width="1.4"/>
<text x="806.4" y="1893.20" class="t">CCL2</text>
<rect x="767.70" y="1904.93" width="31.1" height="31.1" fill="#ffffb3" stroke="#222" stroke-width="1.4"/>
<text x="806.4" y="1927.18" class="t">CX3CL1</text>
<rect x="767.70" y="1938.66" width="31.1" height="31.1" fill="#bebada" stroke="#222" stroke-width="1.4"/>
<text x="806.4" y="1961.16" class="t">CXCL1</text>
<rect x="767.70" y="1972.39" width="31.1" height="31.1" fill="#fb8072" stroke="#222" stroke-width="1.4"/>
<text x="806.4" y="1995.14" class="t">CXCL2</text>
<rect x="767.70" y="2006.12" width="31.1" height="31.1" fill="#80b1d3" stroke="#222" stroke-width="1.4"/>
<text x="806.4" y="2029.12" class="t">CXCL8</text>
<rect x="767.70" y="2039.85" width="31.1" height="31.1" fill="#fdb462" stroke="#222" stroke-width="1.4"/>
<text x="806.4" y="2063.10" class="t">IL12A</text>
<rect x="767.70" y="2073.58" width="31.1" height="31.1" fill="#b3de69" stroke="#222" stroke-width="1.4"/>
<text x="806.4" y="2097.08" class="t">IL6</text>
<rect x="767.70" y="2107.31" width="31.1" height="31.1" fill="#fccde5" stroke="#222" stroke-width="1.4"/>
<text x="806.4" y="2131.06" class="t">MSTN</text>
<rect x="767.70" y="2141.04" width="31.1" height="31.1" fill="#d9d9d9" stroke="#222" stroke-width="1.4"/>
<text x="806.4" y="2165.04" class="t">TNF</text>
</g>
<g id="panel-f">
<text x="1021.5" y="1780.8" class="t">Fiber type markers</text>
<rect x="1016.8" y="1818.5" width="580.70" height="348.70" fill="#fff"/>
<clipPath id="cp-panel-f"><rect x="1016.8" y="1818.5" width="578.00" height="348.70"/></clipPath>
<g clip-path="url(#cp-panel-f)">
<line x1="1016.8" x2="1597.5" y1="1876.30" y2="1876.30" stroke="#ebebeb" stroke-width="1.8"/>
<line x1="1016.8" x2="1597.5" y1="1996.30" y2="1996.30" stroke="#ebebeb" stroke-width="1.8"/>
<line x1="1016.8" x2="1597.5" y1="2116.30" y2="2116.30" stroke="#ebebeb" stroke-width="1.8"/>
<line x1="1016.8" x2="1597.5" y1="1936.30" y2="1936.30" stroke="#ebebeb" stroke-width="3.6"/>
<line x1="1016.8" x2="1597.5" y1="2056.30" y2="2056.30" stroke="#ebebeb" stroke-width="3.6"/>
<line x1="1083.10" x2="1083.10" y1="1818.5" y2="2167.2" stroke="#ebebeb" stroke-width="3.6"/>
<line x1="1195.10" x2="1195.10" y1="1818.5" y2="2167.2" stroke="#ebebeb" stroke-width="3.6"/>
<line x1="1306.70" x2="1306.70" y1="1818.5" y2="2167.2" stroke="#ebebeb" stroke-width="3.6"/>
<line x1="1418.40" x2="1418.40" y1="1818.5" y2="2167.2" stroke="#ebebeb" stroke-width="3.6"/>
<line x1="1530.00" x2="1530.00" y1="1818.5" y2="2167.2" stroke="#ebebeb" stroke-width="3.6"/>
</g>
<rect x="1032.80" y="1885.94" width="101.00" height="21.38" fill="#ffffb3" stroke="#000" stroke-width="1.4"/>
<rect x="1032.80" y="1907.32" width="101.00" height="3.26" fill="#bebada" stroke="#000" stroke-width="1.4"/>
<rect x="1032.80" y="1910.58" width="101.00" height="9.42" fill="#80b1d3" stroke="#000" stroke-width="1.4"/>
<rect x="1032.80" y="1920.01" width="101.00" height="12.32" fill="#fccde5" stroke="#000" stroke-width="1.4"/>
<rect x="1032.80" y="1932.33" width="101.00" height="3.99" fill="#d9d9d9" stroke="#000" stroke-width="1.4"/>
<rect x="1032.80" y="1936.32" width="101.00" height="7.61" fill="#b3de69" stroke="#000" stroke-width="1.4"/>
<rect x="1032.80" y="1943.93" width="101.00" height="9.42" fill="#fdb462" stroke="#000" stroke-width="1.4"/>
<rect x="1032.80" y="1953.35" width="101.00" height="7.97" fill="#fb8072" stroke="#000" stroke-width="1.4"/>
<rect x="1032.80" y="1961.33" width="101.00" height="11.60" fill="#8dd3c7" stroke="#000" stroke-width="1.4"/>
<rect x="1144.80" y="1926.53" width="101.00" height="9.79" fill="#fb8072" stroke="#000" stroke-width="1.4"/>
<rect x="1144.80" y="1936.32" width="101.00" height="6.52" fill="#d9d9d9" stroke="#000" stroke-width="1.4"/>
<rect x="1144.80" y="1942.84" width="101.00" height="1.81" fill="#fccde5" stroke="#000" stroke-width="1.4"/>
<rect x="1144.80" y="1944.65" width="101.00" height="1.81" fill="#b3de69" stroke="#000" stroke-width="1.4"/>
<rect x="1144.80" y="1946.47" width="101.00" height="1.81" fill="#80b1d3" stroke="#000" stroke-width="1.4"/>
<rect x="1144.80" y="1948.28" width="101.00" height="3.62" fill="#fdb462" stroke="#000" stroke-width="1.4"/>
<rect x="1144.80" y="1951.90" width="101.00" height="11.60" fill="#bebada" stroke="#000" stroke-width="1.4"/>
<rect x="1144.80" y="1963.50" width="101.00" height="0.72" fill="#ffffb3" stroke="#000" stroke-width="1.4"/>
<rect x="1144.80" y="1964.23" width="101.00" height="38.42" fill="#8dd3c7" stroke="#000" stroke-width="1.4"/>
<rect x="1256.40" y="1833.74" width="101.00" height="58.72" fill="#8dd3c7" stroke="#000" stroke-width="1.4"/>
<rect x="1256.40" y="1892.46" width="101.00" height="43.13" fill="#bebada" stroke="#000" stroke-width="1.4"/>
<rect x="1256.40" y="1935.59" width="101.00" height="0.91" fill="#d9d9d9" stroke="#000" stroke-width="1.4"/>
<rect x="1256.40" y="1936.50" width="101.00" height="7.07" fill="#fccde5" stroke="#000" stroke-width="1.4"/>
<rect x="1256.40" y="1943.57" width="101.00" height="60.89" fill="#b3de69" stroke="#000" stroke-width="1.4"/>
<rect x="1256.40" y="2004.46" width="101.00" height="51.83" fill="#fdb462" stroke="#000" stroke-width="1.4"/>
<rect x="1256.40" y="2056.29" width="101.00" height="15.95" fill="#80b1d3" stroke="#000" stroke-width="1.4"/>
<rect x="1256.40" y="2072.24" width="101.00" height="12.32" fill="#fb8072" stroke="#000" stroke-width="1.4"/>
<rect x="1256.40" y="2084.56" width="101.00" height="7.97" fill="#ffffb3" stroke="#000" stroke-width="1.4"/>
<rect x="1368.10" y="1883.76" width="101.00" height="7.61" fill="#fb8072" stroke="#000" stroke-width="1.4"/>
<rect x="1368.10" y="1891.37" width="101.00" height="10.51" fill="#80b1d3" stroke="#000" stroke-width="1.4"/>
<rect x="1368.10" y="1901.88" width="101.00" height="18.12" fill="#fdb462" stroke="#000" stroke-width="1.4"/>
<rect x="1368.10" y="1920.01" width="101.00" height="16.31" fill="#fccde5" stroke="#000" stroke-width="1.4"/>
<rect x="1368.10" y="1936.32" width="101.00" height="3.99" fill="#d9d9d9" stroke="#000" stroke-width="1.4"/>
<rect x="1368.10" y="1940.30" width="101.00" height="26.82" fill="#bebada" stroke="#000" stroke-width="1.4"/>
<rect x="1368.10" y="1967.13" width="101.00" height="4.35" fill="#ffffb3" stroke="#000" stroke-width="1.4"/>
<rect x="1368.10" y="1971.48" width="101.00" height="101.49" fill="#8dd3c7" stroke="#000" stroke-width="1.4"/>
<rect x="1479.70" y="1905.51" width="101.00" height="4.71" fill="#ffffb3" stroke="#000" stroke-width="1.4"/>
<rect x="1479.70" y="1910.22" width="101.00" height="16.31" fill="#fccde5" stroke="#000" stroke-width="1.4"/>
<rect x="1479.70" y="1926.53" width="101.00" height="9.79" fill="#d9d9d9" stroke="#000" stroke-width="1.4"/>
<rect x="1479.70" y="1936.32" width="101.00" height="19.93" fill="#b3de69" stroke="#000" stroke-width="1.4"/>
<rect x="1479.70" y="1956.25" width="101.00" height="20.30" fill="#fdb462" stroke="#000" stroke-width="1.4"/>
<rect x="1479.70" y="1976.55" width="101.00" height="1.81" fill="#80b1d3" stroke="#000" stroke-width="1.4"/>
<rect x="1479.70" y="1978.36" width="101.00" height="15.95" fill="#fb8072" stroke="#000" stroke-width="1.4"/>
<rect x="1479.70" y="1994.31" width="101.00" height="33.71" fill="#bebada" stroke="#000" stroke-width="1.4"/>
<rect x="1479.70" y="2028.02" width="101.00" height="123.96" fill="#8dd3c7" stroke="#000" stroke-width="1.4"/>
<line x1="1015.90" x2="1596.60" y1="1936.30" y2="1936.30" stroke="#000" stroke-width="3.7" stroke-dasharray="3.8 11.42"/>
<path d="M1016.95 2167.20V1818.50H1596.60" fill="none" stroke="#333" stroke-width="1.7" stroke-linecap="square"/>
<path d="M1016.95 2167.20H1596.60V1818.50" fill="none" stroke="#333" stroke-width="2.5" stroke-linecap="square"/>
<line x1="1004.80" x2="1016.8" y1="1936.30" y2="1936.30" stroke="#333" stroke-width="3.6"/>
<text x="997.5" y="1939.90" text-anchor="end" class="t">0</text>
<line x1="1004.80" x2="1016.8" y1="2056.30" y2="2056.30" stroke="#333" stroke-width="3.6"/>
<text x="997.5" y="2059.90" text-anchor="end" class="t">−1</text>
<line x1="1083.10" x2="1083.10" y1="2167.2" y2="2179.50" stroke="#333" stroke-width="3.6"/>
<text x="1083.10" y="2203" text-anchor="middle" class="t">Acute</text>
<text x="1083.10" y="2227.6" text-anchor="middle" class="t">aerobic</text>
<line x1="1195.10" x2="1195.10" y1="2167.2" y2="2179.50" stroke="#333" stroke-width="3.6"/>
<text x="1195.10" y="2203" text-anchor="middle" class="t">Acute</text>
<text x="1195.10" y="2227.6" text-anchor="middle" class="t">resistance</text>
<line x1="1306.70" x2="1306.70" y1="2167.2" y2="2179.50" stroke="#333" stroke-width="3.6"/>
<text x="1306.40" y="2203" text-anchor="middle" class="t">Inactivity</text>
<line x1="1418.40" x2="1418.40" y1="2167.2" y2="2179.50" stroke="#333" stroke-width="3.6"/>
<text x="1418.40" y="2203" text-anchor="middle" class="t">Training</text>
<text x="1418.40" y="2227.6" text-anchor="middle" class="t">aerobic</text>
<line x1="1530.00" x2="1530.00" y1="2167.2" y2="2179.50" stroke="#333" stroke-width="3.6"/>
<text x="1530.00" y="2203" text-anchor="middle" class="t">Training</text>
<text x="1530.00" y="2227.6" text-anchor="middle" class="t">resistance</text>
<text transform="translate(963.2,1997.7) rotate(-90)" text-anchor="middle" class="t">logFC</text>
<rect x="1663.60" y="1873.90" width="31.5" height="300.78" fill="#8c8c8c"/>
<rect x="1663.80" y="1874.10" width="31.1" height="31.1" fill="#8dd3c7" stroke="#222" stroke-width="1.4"/>
<text x="1702.5" y="1893.70" class="t">MYH1 (IIX)</text>
<rect x="1663.80" y="1907.76" width="31.1" height="31.1" fill="#ffffb3" stroke="#222" stroke-width="1.4"/>
<text x="1702.5" y="1927.62" class="t">MYH2 (IIA)</text>
<rect x="1663.80" y="1941.42" width="31.1" height="31.1" fill="#bebada" stroke="#222" stroke-width="1.4"/>
<text x="1702.5" y="1961.54" class="t">MYH4 (IIB)</text>
<rect x="1663.80" y="1975.08" width="31.1" height="31.1" fill="#fb8072" stroke="#222" stroke-width="1.4"/>
<text x="1702.5" y="1995.46" class="t">MYH7 (I)</text>
<rect x="1663.80" y="2008.74" width="31.1" height="31.1" fill="#80b1d3" stroke="#222" stroke-width="1.4"/>
<text x="1702.5" y="2029.38" class="t">MYL1 (II)</text>
<rect x="1663.80" y="2042.40" width="31.1" height="31.1" fill="#fdb462" stroke="#222" stroke-width="1.4"/>
<text x="1702.5" y="2063.30" class="t">MYL2 (I)</text>
<rect x="1663.80" y="2076.06" width="31.1" height="31.1" fill="#b3de69" stroke="#222" stroke-width="1.4"/>
<text x="1702.5" y="2097.22" class="t">MYL3 (I)</text>
<rect x="1663.80" y="2109.72" width="31.1" height="31.1" fill="#fccde5" stroke="#222" stroke-width="1.4"/>
<text x="1702.5" y="2131.14" class="t">MYL6B (I)</text>
<rect x="1663.80" y="2143.38" width="31.1" height="31.1" fill="#d9d9d9" stroke="#222" stroke-width="1.4"/>
<text x="1702.5" y="2165.06" class="t">MYLPF (II)</text>
</g>
</svg>
</body>
</html>
